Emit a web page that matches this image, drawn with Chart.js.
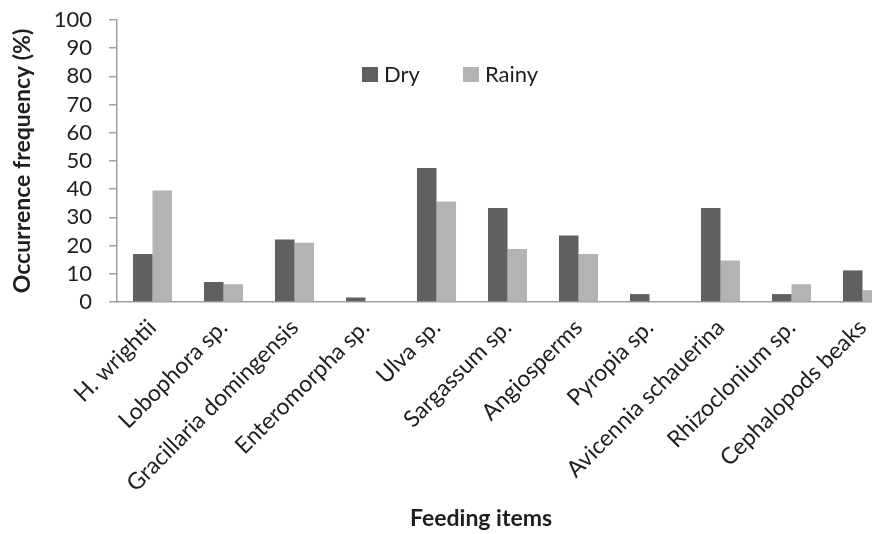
<!DOCTYPE html>
<html>
<head>
<meta charset="utf-8">
<script src="https://cdn.jsdelivr.net/npm/chart.js@4/dist/chart.umd.min.js"></script>
<style>
html,body{margin:0;padding:0;background:#fff;overflow:hidden;width:872px;height:534px;}
#wrap{position:absolute;left:0;top:0;width:910px;height:534px;}
</style>
</head>
<body>
<div id="wrap"><canvas id="c" width="910" height="534"></canvas></div>
<script>
const categories = ["H. wrightii","Lobophora sp.","Gracillaria domingensis","Enteromorpha sp.","Ulva sp.","Sargassum sp.","Angiosperms","Pyropia sp.","Avicennia schauerina","Rhizoclonium sp.","Cephalopods beaks"];
const dryValues = [17.0, 7.1, 22.2, 1.6, 47.5, 33.3, 23.6, 2.8, 33.3, 2.8, 11.2];
const rainyValues = [39.5, 6.3, 21.0, 0, 35.6, 18.8, 17.0, 0, 14.7, 6.3, 4.2];
const yTicks = [0,10,20,30,40,50,60,70,80,90,100];
const seriesNames = ["Dry","Rainy"];
const xTitle = "Feeding items";
const yTitle = "Occurrence frequency (%)";
const colors = ["#606060","#b3b3b3"];

const FONT = "Lato, 'Open Sans', sans-serif";
const TEXT = "#1e1e1e";

const extrasPlugin = {
  id: 'extras',
  afterDraw(chart){
    const ctx = chart.ctx;
    ctx.save();
    ctx.font = "22px " + FONT;
    ctx.textBaseline = "middle";
    ctx.textAlign = "left";
    const xs = [362, 463];
    seriesNames.forEach((n,i)=>{
      ctx.fillStyle = colors[i];
      ctx.fillRect(xs[i], 67, 16, 15);
      ctx.fillStyle = TEXT;
      ctx.fillText(n, xs[i] + 22, 75);
    });
    ctx.font = "bold 23px " + FONT;
    ctx.textAlign = "center";
    ctx.fillStyle = TEXT;
    ctx.fillText(xTitle, 481, 519);
    ctx.restore();
  }
};

new Chart(document.getElementById('c'), {
  type: 'bar',
  data: {
    labels: categories,
    datasets: [
      {label: seriesNames[0], data: dryValues, backgroundColor: colors[0], categoryPercentage: 0.55, barPercentage: 1.0},
      {label: seriesNames[1], data: rainyValues, backgroundColor: colors[1], categoryPercentage: 0.55, barPercentage: 1.0}
    ]
  },
  options: {
    responsive: false,
    animation: false,
    layout: {padding: {top: 20, right: 12, left: 0, bottom: 0}},
    plugins: {legend: {display: false}, tooltip: {enabled: false}},
    scales: {
      x: {
        grid: {display: false},
        border: {display: true, color: '#a0a0a0', width: 1.5},
        ticks: {color: TEXT, font: {family: FONT, size: 23}, minRotation: 45, maxRotation: 45, padding: 4, autoSkip: false},
        title: {display: false},
        afterFit(s){ s.height = 232; s.paddingLeft = 0; s.paddingRight = 0; }
      },
      y: {
        min: 0, max: 100,
        afterBuildTicks(s){ s.ticks = yTicks.map(v=>({value:v})); },
        grid: {display: true, drawOnChartArea: false, drawTicks: true, tickLength: 8, color: '#a0a0a0', lineWidth: 1.5},
        border: {display: true, color: '#a0a0a0', width: 1.5},
        ticks: {color: TEXT, font: {family: FONT, size: 22}, padding: 17, autoSkip: false},
        title: {display: true, text: yTitle, color: TEXT, font: {family: FONT, size: 23, weight: 'bold'}, padding: {top: 9, bottom: 0}},
        afterFit(s){ s.width = 117; s.paddingTop = 0; s.paddingBottom = 0; }
      }
    }
  },
  plugins: [extrasPlugin]
});
</script>
</body>
</html>
